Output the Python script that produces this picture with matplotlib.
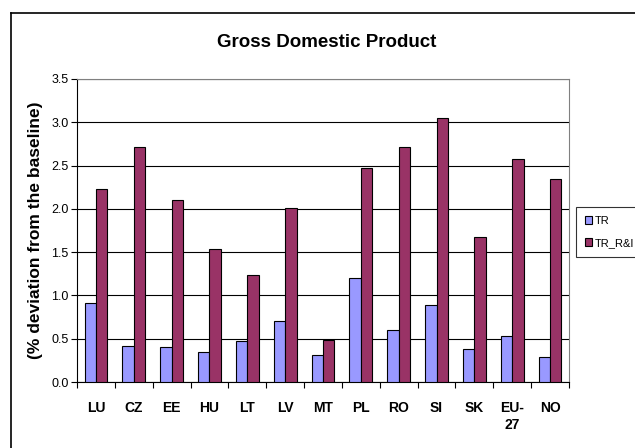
import matplotlib
matplotlib.use("Agg")
import matplotlib.pyplot as plt
import numpy as np
from matplotlib.lines import Line2D

plt.rcParams['font.family'] = ['Liberation Sans', 'DejaVu Sans']

countries = ["LU", "CZ", "EE", "HU", "LT", "LV", "MT", "PL", "RO", "SI", "SK", "EU-\n27", "NO"]
tr = [0.91, 0.42, 0.40, 0.35, 0.47, 0.70, 0.31, 1.20, 0.60, 0.89, 0.38, 0.53, 0.29]
tr_ri = [2.23, 2.72, 2.10, 1.54, 1.24, 2.01, 0.49, 2.47, 2.71, 3.05, 1.67, 2.58, 2.35]

fig = plt.figure(figsize=(6.35, 4.48), dpi=100)
ax = fig.add_axes([0.1213, 0.1473, 0.896 - 0.1213, 0.8237 - 0.1473])

x = np.arange(len(countries))
w = 0.3
ax.bar(x - w/2, tr, w, color="#9999FF", edgecolor="black", linewidth=0.8, label="TR", zorder=3)
ax.bar(x + w/2, tr_ri, w, color="#993366", edgecolor="black", linewidth=0.8, label="TR_R&I", zorder=3)

ax.set_xlim(-0.5, len(countries) - 0.5)
ax.set_ylim(0, 3.5)
ax.set_yticks(np.arange(0, 3.51, 0.5))
ax.set_yticklabels([f"{v:.1f}" for v in np.arange(0, 3.51, 0.5)], fontsize=9)
ax.yaxis.grid(True, color="black", linewidth=0.8, zorder=0)

ax.set_xticks(np.arange(-0.5, len(countries), 1))
ax.set_xticklabels([])
ax.set_xticks(x, minor=True)
ax.set_xticklabels(countries, minor=True, fontsize=10, fontweight="bold", va="top")
ax.tick_params(axis="x", which="major", direction="out", length=4, width=0.8)
ax.tick_params(axis="x", which="minor", length=0, pad=14)
ax.tick_params(axis="y", direction="out", length=4, width=0.8, pad=2)

for s in ["top", "right"]:
    ax.spines[s].set_color("#808080")
ax.spines["left"].set_color("black")
ax.spines["bottom"].set_color("black")

ax.set_ylabel("(% deviation from the baseline)", fontsize=12.5, fontweight="bold", labelpad=6)
fig.text(0.515, 0.905, "Gross Domestic Product", ha="center", va="center", fontsize=13.5, fontweight="bold")

leg = fig.legend(loc="upper left", bbox_to_anchor=(576/635, 1 - 207/448), borderaxespad=0,
                 fancybox=False, frameon=True, edgecolor="black", fontsize=8,
                 handlelength=0.65, handleheight=0.65, handletextpad=0.25, labelspacing=1.1,
                 borderpad=0.8)
leg.get_frame().set_linewidth(0.8)

# outer chart border
fig.add_artist(Line2D([11/635, 11/635], [0, 1 - 13/448], transform=fig.transFigure, color="black", linewidth=1.2))
fig.add_artist(Line2D([11/635, 1], [1 - 13/448, 1 - 13/448], transform=fig.transFigure, color="black", linewidth=1.2))

fig.savefig("out.png", dpi=100)
